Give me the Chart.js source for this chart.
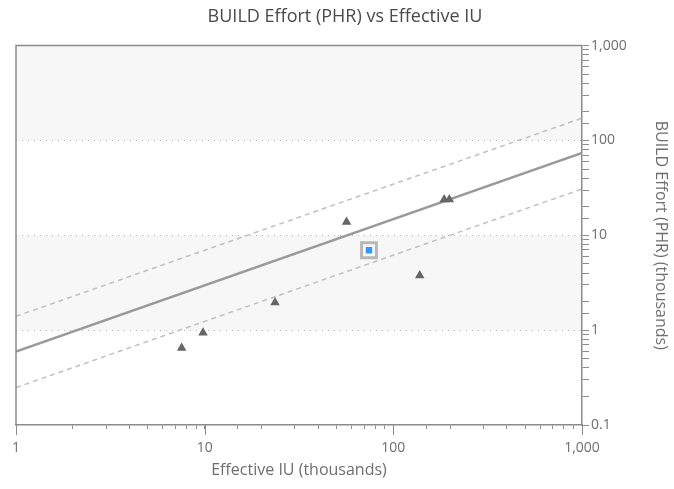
<!DOCTYPE html>
<html lang="en">
<head>
  <meta charset="UTF-8">
  <title>BUILD Effort (PHR) vs Effective IU</title>
  <script src="https://cdn.jsdelivr.net/npm/chart.js"></script>
  <style>
    html, body { margin: 0; padding: 0; background: #fff; }
    #wrap { width: 674px; height: 489px; }
  </style>
</head>
<body>

<div id="wrap">
  <canvas id="myChart"></canvas>
</div>

<script>
  // projects (thousands)
  let effectiveIU = [7.55, 9.8, 23.6, 56.5, 138, 186, 198];
  let buildEffort = [0.65, 0.94, 1.96, 13.8, 3.77, 23.8, 23.8];

  // the highlighted project
  let currentIU = [74.3];
  let currentEffort = [6.95];

  // trend line and its upper / lower bounds, at x = 1 and x = 1000
  let trendIU = [1, 1000];
  let trendEffort = [0.593, 73.7];
  let upperEffort = [1.40, 172];
  let lowerEffort = [0.248, 30.8];

  let xTickLabels = { 1: '1', 10: '10', 100: '100', 1000: '1,000' };
  let yTickLabels = { 0.1: '0.1', 1: '1', 10: '10', 100: '100', 1000: '1,000' };

  let toPoints = function (xs, ys) {
    return xs.map(function (x, i) { return { x: x, y: ys[i] }; });
  };

  let isDecade = function (v) {
    let l = Math.log10(v);
    return Math.abs(l - Math.round(l)) < 1e-9;
  };

  let axisGray = '#8c8c8c';
  let textGray = '#6e6e6e';
  let font = "'Open Sans', 'DejaVu Sans', sans-serif";

  // grey bands between 1-10 and 100-1000, plus plot frame / long x ticks
  let bandsPlugin = {
    id: 'bands',
    beforeDraw: function (chart) {
      let ctx = chart.ctx;
      let area = chart.chartArea;
      let y = chart.scales.y;
      ctx.save();
      ctx.fillStyle = '#f7f7f7';
      [[1, 10], [100, 1000]].forEach(function (b) {
        let top = y.getPixelForValue(b[1]);
        let bottom = y.getPixelForValue(b[0]);
        ctx.fillRect(area.left, top, area.right - area.left, bottom - top);
      });
      ctx.restore();
    },
    afterDraw: function (chart) {
      let ctx = chart.ctx;
      let area = chart.chartArea;
      let x = chart.scales.x;
      ctx.save();
      ctx.strokeStyle = axisGray;
      ctx.lineWidth = 1.5;
      ctx.beginPath();
      ctx.moveTo(area.left, area.bottom);
      ctx.lineTo(area.left, area.top);
      ctx.lineTo(area.right, area.top);
      ctx.stroke();
      ctx.lineWidth = 1;
      ctx.beginPath();
      Object.keys(xTickLabels).forEach(function (k) {
        let px = Math.round(x.getPixelForValue(Number(k))) + 0.5;
        ctx.moveTo(px, area.bottom);
        ctx.lineTo(px, area.bottom + 10);
      });
      ctx.stroke();
      ctx.restore();
    }
  };

  let ctx = document.getElementById('myChart').getContext('2d');
  let myChart = new Chart(ctx, {
    type: 'scatter',
    data: {
      datasets: [{
        label: 'Current',
        data: toPoints(currentIU, currentEffort),
        pointStyle: 'rect',
        pointRadius: 4.5,
        backgroundColor: '#3399ff',
        borderWidth: 0
      }, {
        label: 'Current frame',
        data: toPoints(currentIU, currentEffort),
        pointStyle: 'rect',
        pointRadius: 10.5,
        backgroundColor: 'rgba(255,255,255,0)',
        borderColor: '#b8b8b8',
        borderWidth: 3
      }, {
        label: 'Projects',
        data: toPoints(effectiveIU, buildEffort),
        pointStyle: 'triangle',
        pointRadius: 5.5,
        backgroundColor: '#666666',
        borderColor: '#666666',
        borderWidth: 0
      }, {
        label: 'Trend',
        data: toPoints(trendIU, trendEffort),
        showLine: true,
        pointRadius: 0,
        borderColor: '#9a9a9a',
        borderWidth: 2.5
      }, {
        label: 'Upper',
        data: toPoints(trendIU, upperEffort),
        showLine: true,
        pointRadius: 0,
        borderColor: '#c0c0c0',
        borderWidth: 1.5,
        borderDash: [5, 4]
      }, {
        label: 'Lower',
        data: toPoints(trendIU, lowerEffort),
        showLine: true,
        pointRadius: 0,
        borderColor: '#c0c0c0',
        borderWidth: 1.5,
        borderDash: [5, 4]
      }]
    },
    options: {
      responsive: true,
      maintainAspectRatio: false,
      animation: false,
      layout: { padding: { left: 16, top: 0, right: 0, bottom: 0 } },
      plugins: {
        legend: { display: false },
        tooltip: { enabled: false },
        title: {
          display: true,
          text: 'BUILD Effort (PHR) vs Effective IU',
          color: '#4a4a4a',
          font: { family: font, size: 18, weight: 'normal' },
          padding: { top: 6, bottom: 18 }
        }
      },
      scales: {
        x: {
          type: 'logarithmic',
          position: 'bottom',
          min: 1,
          max: 1000,
          afterFit: function (scale) { scale.height = 64; },
          border: { display: true, color: axisGray, width: 1.5 },
          grid: {
            drawOnChartArea: false,
            tickLength: 4,
            tickColor: axisGray
          },
          ticks: {
            autoSkip: false,
            maxRotation: 0,
            padding: 11,
            color: textGray,
            font: { family: font, size: 14 },
            callback: function (v) { return xTickLabels[v] || ''; }
          },
          title: {
            display: true,
            text: 'Effective IU (thousands)',
            color: textGray,
            font: { family: font, size: 16 },
            padding: { top: 4, bottom: 9 }
          }
        },
        y: {
          type: 'logarithmic',
          position: 'right',
          min: 0.1,
          max: 1000,
          afterFit: function (scale) { scale.width = 92; },
          border: { display: true, color: axisGray, width: 1.5, dash: [1, 5] },
          grid: {
            color: function (c) {
              let v = c.tick && c.tick.value;
              if (v === undefined || !isDecade(v) || v === 0.1 || v === 1000) return 'rgba(0,0,0,0)';
              return '#b0b0b0';
            },
            lineWidth: 1,
            tickLength: 7,
            tickColor: axisGray,
            tickBorderDash: []
          },
          ticks: {
            autoSkip: false,
            padding: 2,
            color: textGray,
            font: { family: font, size: 14 },
            callback: function (v) { return yTickLabels[v] || ''; }
          },
          title: {
            display: true,
            text: 'BUILD Effort (PHR) (thousands)',
            color: textGray,
            font: { family: font, size: 16 },
            padding: { top: 4, bottom: 4 }
          }
        }
      }
    },
    plugins: [bandsPlugin]
  });
</script>

</body>
</html>
